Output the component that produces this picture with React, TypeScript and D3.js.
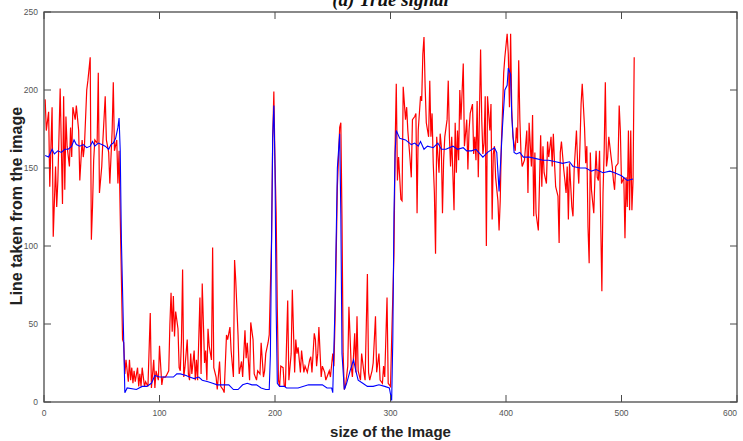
import React from "react";
import * as d3 from "d3";

// values: [pixel index, intensity]
const redSignal: [number, number][] = [
  [1, 194], [2, 174], [4, 186], [5, 138], [7, 189], [8, 106], [10, 151], [11, 125], [12, 142], [14, 201],
  [16, 127], [17, 196], [18, 136], [19, 183], [20, 164], [22, 151], [23, 176], [24, 157], [25, 189], [27, 181],
  [28, 190], [30, 174], [31, 142], [33, 168], [34, 157], [35, 164], [37, 200], [38, 206], [40, 221], [41, 104],
  [42, 125], [43, 155], [44, 168], [46, 166], [47, 211], [48, 134], [50, 151], [51, 168], [53, 196], [54, 168],
  [56, 160], [57, 140], [59, 174], [60, 205], [61, 161], [63, 168], [64, 140], [65, 161], [66, 119], [67, 80],
  [68, 40], [69, 38], [70, 18], [71, 27], [73, 13], [74, 27], [75, 14], [76, 22], [77, 12], [78, 20],
  [79, 13], [81, 22], [82, 10], [83, 18], [84, 10], [85, 22], [87, 10], [88, 13], [90, 10], [92, 57],
  [93, 9], [95, 27], [96, 9], [97, 20], [99, 14], [100, 36], [102, 11], [103, 16], [105, 16], [106, 17],
  [108, 20], [109, 50], [110, 70], [111, 45], [112, 68], [113, 42], [114, 58], [116, 47], [117, 22], [118, 20],
  [119, 39], [120, 85], [121, 16], [122, 22], [124, 40], [125, 18], [126, 14], [127, 31], [128, 18], [130, 33],
  [131, 14], [132, 27], [133, 14], [135, 67], [136, 18], [137, 76], [139, 25], [140, 33], [141, 14], [142, 47],
  [143, 36], [145, 27], [146, 99], [147, 22], [149, 16], [150, 8], [152, 26], [153, 10], [155, 8], [156, 6],
  [158, 43], [159, 40], [161, 48], [162, 33], [164, 16], [165, 91], [166, 78], [168, 43], [169, 18], [171, 26],
  [172, 16], [174, 46], [175, 28], [176, 38], [178, 14], [179, 51], [181, 40], [182, 18], [184, 14], [185, 20],
  [187, 18], [188, 38], [190, 16], [191, 20], [192, 31], [194, 38], [195, 43], [197, 104], [198, 168], [199, 199],
  [200, 153], [201, 121], [202, 60], [203, 14], [204, 10], [205, 23], [207, 22], [208, 10], [209, 10], [211, 65],
  [212, 14], [214, 31], [215, 72], [217, 19], [218, 40], [219, 31], [220, 35], [222, 19], [223, 33], [225, 19],
  [226, 23], [228, 19], [230, 27], [231, 29], [232, 19], [234, 44], [235, 40], [236, 23], [237, 31], [238, 48],
  [240, 16], [241, 23], [243, 19], [244, 14], [245, 16], [247, 20], [248, 16], [250, 31], [251, 23], [252, 53],
  [253, 95], [254, 138], [256, 176], [257, 179], [258, 117], [259, 31], [260, 8], [261, 10], [263, 23], [264, 61],
  [266, 23], [267, 16], [269, 44], [270, 19], [271, 55], [272, 20], [274, 14], [275, 31], [277, 19], [278, 14],
  [280, 82], [281, 19], [282, 14], [284, 20], [285, 25], [287, 55], [288, 19], [290, 31], [291, 14], [293, 12],
  [294, 23], [295, 16], [297, 67], [298, 12], [300, 10], [301, 40], [303, 95], [304, 164], [305, 204], [306, 142],
  [307, 157], [309, 130], [310, 129], [311, 202], [313, 181], [314, 189], [315, 174], [317, 155], [318, 144], [319, 181],
  [321, 183], [322, 185], [323, 121], [324, 174], [326, 196], [327, 193], [328, 223], [329, 234], [330, 202], [331, 179],
  [333, 170], [334, 206], [335, 170], [336, 185], [337, 153], [338, 134], [339, 95], [340, 170], [342, 147], [343, 172],
  [344, 164], [345, 121], [346, 155], [347, 170], [349, 181], [350, 206], [351, 170], [352, 151], [353, 170], [355, 123],
  [356, 179], [357, 147], [358, 174], [359, 155], [360, 200], [361, 181], [363, 217], [364, 164], [365, 172], [366, 181],
  [367, 149], [368, 174], [369, 185], [371, 191], [372, 159], [373, 170], [374, 155], [375, 193], [376, 144], [378, 226],
  [379, 181], [380, 159], [381, 166], [382, 196], [383, 100], [384, 196], [386, 174], [387, 191], [388, 117], [389, 159],
  [390, 164], [391, 144], [393, 129], [394, 110], [395, 129], [396, 166], [397, 187], [398, 211], [399, 221], [401, 236],
  [402, 223], [403, 189], [404, 236], [405, 187], [406, 170], [408, 161], [409, 176], [410, 166], [411, 219], [412, 181],
  [413, 159], [414, 151], [416, 155], [418, 174], [419, 134], [420, 179], [422, 151], [423, 184], [424, 119], [425, 160],
  [426, 121], [428, 110], [430, 171], [431, 138], [432, 164], [433, 147], [435, 140], [436, 167], [437, 157], [439, 170],
  [440, 151], [441, 172], [442, 153], [443, 138], [445, 132], [446, 102], [447, 160], [448, 167], [450, 149], [451, 142],
  [452, 134], [453, 151], [454, 117], [455, 153], [457, 125], [458, 119], [459, 149], [461, 174], [462, 153], [463, 140],
  [464, 164], [465, 191], [466, 204], [468, 176], [469, 153], [470, 164], [471, 112], [472, 89], [473, 160], [474, 136],
  [476, 121], [477, 144], [478, 161], [479, 144], [480, 142], [481, 161], [483, 71], [484, 134], [485, 161], [486, 205],
  [487, 151], [488, 157], [489, 170], [491, 157], [492, 151], [493, 142], [494, 136], [495, 151], [497, 153], [498, 190],
  [499, 174], [500, 140], [502, 144], [503, 105], [504, 144], [505, 125], [506, 174], [507, 123], [508, 174], [509, 123],
  [510, 142], [511, 221],
];

const blueSignal: [number, number][] = [
  [1, 158], [4, 157], [7, 162], [9, 159], [12, 161], [15, 160], [18, 162], [21, 162], [24, 164], [26, 168],
  [28, 165], [31, 164], [34, 165], [37, 163], [40, 164], [42, 167], [44, 164], [47, 166], [50, 165], [53, 164],
  [56, 162], [58, 165], [60, 166], [62, 169], [64, 176], [65, 182], [66, 161], [67, 104], [69, 40], [70, 6],
  [72, 9], [80, 8], [85, 10], [89, 10], [93, 12], [96, 17], [100, 16], [105, 16], [112, 16], [115, 18],
  [118, 18], [123, 17], [126, 16], [130, 15], [134, 16], [137, 14], [142, 13], [146, 12], [150, 11], [156, 11],
  [160, 11], [164, 8], [168, 8], [172, 11], [176, 12], [180, 11], [184, 11], [188, 9], [192, 8], [195, 8],
  [196, 30], [197, 100], [198, 170], [199, 190], [200, 150], [201, 60], [202, 12], [204, 10], [208, 10], [210, 9],
  [215, 9], [220, 9], [229, 11], [235, 11], [241, 11], [245, 9], [249, 9], [250, 6], [252, 63], [254, 150],
  [256, 172], [257, 120], [258, 31], [260, 8], [262, 12], [265, 20], [268, 27], [270, 20], [272, 14], [276, 12],
  [280, 10], [285, 10], [290, 11], [295, 10], [299, 9], [301, 1], [302, 40], [303, 120], [304, 160], [305, 174],
  [308, 169], [313, 168], [318, 165], [321, 166], [324, 164], [326, 167], [329, 162], [332, 164], [337, 163], [341, 166],
  [344, 162], [348, 162], [354, 164], [358, 162], [363, 163], [366, 161], [370, 161], [374, 162], [380, 157], [384, 160],
  [390, 163], [392, 160], [394, 135], [397, 177], [399, 200], [401, 203], [402, 214], [404, 210], [405, 183], [407, 160],
  [409, 159], [412, 160], [415, 157], [420, 157], [426, 156], [432, 155], [437, 155], [443, 154], [449, 153], [455, 154],
  [458, 151], [464, 150], [469, 150], [474, 148], [478, 149], [484, 147], [490, 148], [494, 147], [500, 145], [505, 142],
  [510, 143],
];

const xTicks = [0, 100, 200, 300, 400, 500, 600];
const yTicks = [0, 50, 100, 150, 200, 250];

const W = 743;
const H = 441;
const m = { left: 44, right: 6, top: 12, bottom: 39 };
const axisColor = "#4a4a4a";
const tickLen = 7;

export default function App() {
  const x = d3.scaleLinear().domain([0, 600]).range([m.left, W - m.right]);
  const y = d3.scaleLinear().domain([0, 250]).range([H - m.bottom, m.top]);
  const line = d3
    .line<[number, number]>()
    .x((d) => x(d[0]))
    .y((d) => y(d[1]));

  const x0 = x(0);
  const x1 = x(600);
  const y0 = y(0);
  const y1 = y(250);

  return (
    <svg
      width={W}
      height={H}
      style={{ position: "absolute", left: 0, top: 0, background: "#fff" }}
      fontFamily="Liberation Sans, Arial, sans-serif"
    >
      {/* title, clipped at the top like the source figure */}
      <text
        x={(x0 + x1) / 2}
        y={6}
        textAnchor="middle"
        fontFamily="Liberation Serif, Times New Roman, serif"
        fontWeight="bold"
        fontStyle="italic"
        fontSize={19}
        fill="#111"
      >
        (a) True signal
      </text>

      <path d={line(redSignal) ?? ""} fill="none" stroke="#ff0000" strokeWidth={1.2} />
      <path d={line(blueSignal) ?? ""} fill="none" stroke="#0000ff" strokeWidth={1.1} />

      {/* box */}
      <rect
        x={x0}
        y={y1}
        width={x1 - x0}
        height={y0 - y1}
        fill="none"
        stroke={axisColor}
        strokeWidth={1.3}
      />

      {/* x ticks */}
      {xTicks.map((t) => (
        <g key={"x" + t}>
          <line x1={x(t)} x2={x(t)} y1={y0} y2={y0 - tickLen} stroke={axisColor} />
          <line x1={x(t)} x2={x(t)} y1={y1} y2={y1 + tickLen} stroke={axisColor} />
          <text
            x={t === 600 ? x(t) - 7 : x(t)}
            y={y0 + 14}
            textAnchor="middle"
            fontSize={8.5}
            fill="#555"
          >
            {t}
          </text>
        </g>
      ))}

      {/* y ticks */}
      {yTicks.map((t) => (
        <g key={"y" + t}>
          <line x1={x0} x2={x0 + tickLen} y1={y(t)} y2={y(t)} stroke={axisColor} />
          <line x1={x1} x2={x1 - tickLen} y1={y(t)} y2={y(t)} stroke={axisColor} />
          <text x={x0 - 6} y={y(t) + 3} textAnchor="end" fontSize={8.5} fill="#555">
            {t}
          </text>
        </g>
      ))}

      <text
        x={(x0 + x1) / 2}
        y={437}
        textAnchor="middle"
        fontWeight="bold"
        fontSize={15}
        fill="#222"
      >
        size of the Image
      </text>
      <text
        transform={`translate(22,206) rotate(-90)`}
        textAnchor="middle"
        fontWeight="bold"
        fontSize={16}
        fill="#222"
      >
        Line taken from the image
      </text>
    </svg>
  );
}
